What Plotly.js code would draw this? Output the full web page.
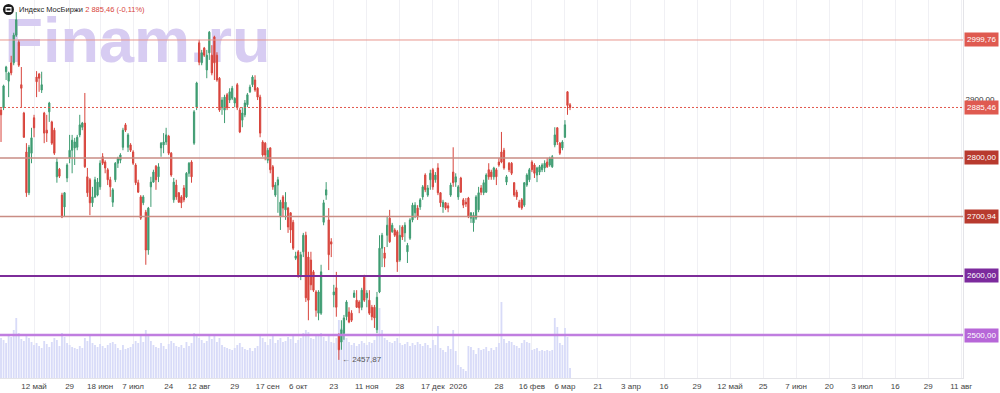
<!DOCTYPE html>
<html><head><meta charset="utf-8">
<script src="https://cdn.plot.ly/plotly-3.0.1.min.js"></script>
<style>html,body{margin:0;padding:0;background:#fff;overflow:hidden}#chart{width:1000px;height:393px}</style>
</head><body><div id="chart"></div>
<script>
// Daily candles, IMOEX (index order = trading day number)
const openP=[2881,2885,2946,2930,2961,2961,3008,2996,2924,2876,
2810,2741,2808,2868,2937,2942,2915,2876,2847,2878,
2861,2847,2768,2781,2737,2717,2766,2800,2813,2817,
2818,2839,2852,2859,2768,2763,2724,2734,2737,2751,
2802,2793,2780,2763,2725,2763,2791,2796,2818,2856,
2818,2822,2810,2788,2758,2734,2724,2708,2644,2751,
2759,2786,2768,2817,2822,2827,2837,2808,2729,2754,
2741,2734,2749,2734,2774,2793,2825,2886,2995,2961,
2986,2949,2978,2974,3005,2974,2935,2885,2881,2907,
2898,2901,2893,2924,2881,2864,2873,2890,2912,2924,
2932,2918,2903,2827,2825,2796,2817,2785,2737,2754,
2700,2734,2712,2715,2707,2691,2630,2641,2602,2641,
2669,2632,2627,2607,2573,2537,2537,2691,2737,2695,
2658,2568,2580,2500,2488,2503,2531,2539,2537,2564,
2559,2556,2547,2598,2563,2559,2547,2547,2509,2573,
2647,2639,2669,2698,2675,2678,2675,2627,2683,2673,
2641,2664,2695,2707,2715,2717,2734,2771,2737,2763,
2780,2763,2783,2741,2717,2724,2719,2737,2776,2759,
2734,2766,2729,2725,2732,2698,2690,2698,2712,2749,
2741,2742,2780,2776,2768,2780,2793,2810,2813,2759,
2791,2791,2758,2742,2725,2729,2720,2754,2763,2793,
2788,2771,2776,2780,2783,2793,2788,2785,2822,2851,
2825,2817,2835,2912,2890];
const highP=[2886,2924,2956,2946,2973,3012,3047,3000,2954,2878,
2825,2822,2851,2873,2947,2944,2946,2878,2873,2895,
2863,2851,2800,2783,2741,2742,2791,2839,2839,2834,
2839,2873,2861,2910,2783,2766,2751,2768,2766,2796,
2808,2796,2783,2768,2749,2793,2802,2808,2851,2859,
2842,2825,2813,2791,2763,2737,2737,2712,2717,2768,
2780,2788,2791,2827,2842,2851,2839,2810,2766,2763,
2742,2737,2754,2776,2793,2796,2881,2929,3000,2983,
2988,2983,3015,2991,3007,2979,2937,2903,2907,2910,
2918,2922,2903,2927,2885,2886,2898,2910,2924,2940,
2940,2920,2907,2830,2827,2817,2818,2788,2759,2768,
2729,2737,2742,2717,2708,2695,2641,2644,2641,2673,
2675,2641,2641,2610,2576,2576,2619,2729,2759,2715,
2664,2585,2607,2503,2525,2534,2559,2547,2542,2576,
2576,2559,2580,2602,2576,2576,2551,2551,2573,2669,
2673,2649,2700,2712,2690,2681,2678,2686,2686,2691,
2656,2698,2724,2725,2720,2732,2754,2774,2754,2780,
2783,2776,2791,2742,2729,2725,2724,2758,2818,2774,
2754,2768,2732,2732,2734,2708,2708,2737,2751,2754,
2763,2774,2791,2780,2785,2783,2800,2844,2817,2771,
2793,2793,2759,2746,2729,2732,2759,2774,2783,2796,
2791,2785,2788,2791,2796,2800,2802,2805,2852,2852,
2827,2830,2864,2913,2893];
const lowP=[2827,2881,2932,2903,2940,2957,3005,2954,2886,2834,
2734,2737,2791,2835,2903,2912,2910,2825,2827,2861,
2822,2805,2758,2766,2698,2700,2759,2791,2774,2788,
2813,2835,2847,2783,2734,2703,2717,2732,2735,2746,
2788,2774,2754,2734,2717,2759,2783,2791,2813,2844,
2810,2810,2788,2754,2741,2695,2720,2619,2636,2717,
2758,2746,2759,2802,2808,2822,2805,2768,2724,2729,
2724,2715,2725,2732,2768,2758,2822,2881,2957,2957,
2971,2935,2966,2940,2932,2929,2878,2873,2859,2881,
2893,2898,2886,2881,2842,2852,2869,2886,2910,2920,
2912,2898,2835,2802,2796,2791,2774,2746,2734,2707,
2678,2700,2695,2673,2656,2644,2627,2597,2593,2632,
2556,2525,2576,2573,2531,2525,2534,2686,2729,2610,
2632,2547,2531,2457.87,2475,2492,2525,2520,2522,2563,
2546,2537,2542,2556,2547,2534,2525,2512,2503,2571,
2615,2615,2649,2656,2673,2666,2607,2624,2661,2658,
2622,2661,2691,2698,2695,2712,2729,2742,2734,2746,
2746,2758,2737,2717,2707,2712,2708,2734,2751,2751,
2729,2741,2715,2717,2698,2690,2675,2695,2708,2737,
2737,2741,2763,2763,2763,2754,2785,2791,2780,2754,
2776,2771,2734,2729,2715,2712,2717,2751,2759,2776,
2766,2759,2771,2776,2776,2783,2785,2783,2818,2822,
2805,2813,2834,2873,2881];
const closeP=[2873,2922,2954,2944,2944,3008,3034,2957,2918,2835,
2741,2818,2834,2851,2929,2935,2924,2842,2842,2893,
2825,2808,2793,2769,2700,2741,2788,2813,2830,2827,
2835,2856,2859,2785,2741,2724,2734,2763,2759,2791,
2791,2783,2763,2751,2746,2791,2800,2805,2847,2847,
2839,2813,2791,2758,2742,2698,2734,2644,2715,2759,
2776,2763,2785,2825,2827,2839,2808,2771,2759,2734,
2725,2724,2729,2774,2791,2768,2878,2927,2962,2978,
2974,2974,3013,2944,2961,2932,2881,2898,2903,2885,
2912,2918,2901,2885,2844,2876,2893,2907,2920,2937,
2915,2903,2842,2805,2805,2813,2780,2751,2754,2763,
2725,2715,2725,2683,2678,2647,2634,2602,2636,2669,
2563,2559,2585,2576,2542,2573,2607,2724,2746,2636,
2654,2573,2547,2475,2509,2529,2556,2522,2525,2571,
2547,2546,2576,2559,2571,2537,2531,2529,2564,2647,
2669,2630,2686,2658,2686,2669,2624,2669,2666,2686,
2652,2695,2720,2720,2700,2729,2751,2746,2749,2774,
2751,2771,2741,2724,2725,2715,2715,2754,2758,2768,
2751,2742,2720,2722,2700,2707,2703,2734,2741,2742,
2758,2771,2768,2768,2783,2768,2788,2793,2783,2768,
2780,2774,2737,2734,2717,2715,2758,2771,2780,2780,
2774,2783,2785,2788,2791,2785,2800,2802,2839,2827,
2808,2827,2856,2889,2885.46];
const volume=[80,76,70,88,82,96,120,90,78,74,
86,80,72,66,70,64,60,74,68,62,
72,80,76,64,90,82,70,66,62,60,
58,64,60,80,74,84,70,66,62,68,
64,60,66,70,72,68,60,56,66,58,
60,62,68,74,70,86,72,96,88,74,
66,62,60,70,64,58,68,74,70,64,
62,66,60,72,64,70,90,84,80,76,
70,74,86,78,84,72,80,66,62,60,
58,56,60,66,70,62,58,56,60,54,
60,64,84,80,72,66,78,84,70,76,
80,72,74,82,78,84,70,76,80,90,
96,92,80,78,86,84,90,82,74,86,
72,70,80,116,100,90,80,72,66,70,
64,68,74,70,66,72,70,76,84,140,
96,80,76,72,70,74,80,70,66,68,
72,64,70,66,72,68,64,70,66,60,
76,66,104,60,56,52,64,58,96,54,
26,22,18,14,64,62,56,48,60,56,
58,62,54,60,56,62,70,152,78,70,
74,72,66,64,60,70,76,72,70,56,
58,60,54,56,54,56,54,56,120,102,
70,66,100,82,20];

const tickPos=[13,27,39,52,66,78,92,105,117,131,144,157,170,180,196,209,222,235,248,261,274,287,300,313,326,339,352,365,378];
const tickText=['12 май','29','18 июн','7 июл','24','12 авг','29','17 сен','6 окт','23','11 ноя','28','17 дек','2026','28','16 фев','6 мар','21','3 апр','16','29','12 май','25','7 июн','20','3 июл','16','29','11 авг'];

const levelValues=[2999.76,2800.00,2700.94,2600.00,2500.00];
const levelText=['2999,76','2800,00','2700,94','2600,00','2500,00'];
const lastPrice=2885.46, lastText='2885,46';
const lowPrice=2457.87, lowText='← 2457,87';
const priceTicks=[2900], priceTickText=['2900,00'];
const titleName='Индекс МосБиржи', titleQuote='2 885,46 (-0,11%)';

// styles
const lineColors=['#e8978e','#c98d84','#c98d84','#7d2c99','#c07ee0'];
const lineWidths=[1,1.5,1.5,2,2.5];
const boxColors=['#df5a50','#b83a2e','#b83a2e','#7c2a9d','#b767d8'];
const FONT='"Liberation Sans", Arial, sans-serif';

const xIdx=openP.map((_,i)=>i);
const PW=963, PH=378;
const px=p=>p/PW, py=p=>1-p/PH;

const traces=[
 {type:'bar',x:xIdx,y:volume,yaxis:'y',marker:{color:'#d8dbf8',line:{width:0}},width:0.72,hoverinfo:'skip'},
 {type:'scatter',mode:'text',x:[1.4],y:[664],yaxis:'y',text:['Finam.ru'],textposition:'middle right',
  textfont:{family:FONT,size:63,color:'#d7ccf2',weight:700},hoverinfo:'skip'},
 {type:'candlestick',x:xIdx,open:openP,high:highP,low:lowP,close:closeP,yaxis:'y2',
  increasing:{line:{color:'#3f9c72',width:1},fillcolor:'#3f9c72'},
  decreasing:{line:{color:'#d8453d',width:1},fillcolor:'#d8453d'},
  whiskerwidth:0,hoverinfo:'skip'}
];

const shapes=[];
levelValues.forEach((v,i)=>{
  shapes.push({type:'line',xref:'paper',x0:0,x1:1,yref:'y2',y0:v,y1:v,line:{color:lineColors[i],width:lineWidths[i]}});
});
shapes.push({type:'line',xref:'paper',x0:0,x1:1,yref:'y2',y0:lastPrice,y1:lastPrice,line:{color:'#e2574c',width:1,dash:'2px,2px'}});
// title icon
shapes.push({type:'circle',xref:'paper',yref:'paper',x0:px(3),x1:px(14),y0:py(15),y1:py(4),fillcolor:'#1b1b1b',line:{width:0}});
shapes.push({type:'rect',xref:'paper',yref:'paper',x0:px(5.5),x1:px(11.5),y0:py(12),y1:py(7),fillcolor:'#ffffff',line:{width:0}});
shapes.push({type:'rect',xref:'paper',yref:'paper',x0:px(6.5),x1:px(10.5),y0:py(10.5),y1:py(8.5),fillcolor:'#1b1b1b',line:{width:0}});

const annotations=[];
levelValues.forEach((v,i)=>{
  annotations.push({xref:'paper',x:1,xanchor:'left',xshift:1,yref:'y2',y:v,yanchor:'middle',text:levelText[i],
   showarrow:false,bgcolor:boxColors[i],borderpad:2,font:{family:FONT,size:8,color:'#ffffff'}});
});
annotations.push({xref:'paper',x:1,xanchor:'left',xshift:1,yref:'y2',y:lastPrice,yanchor:'middle',text:lastText,
  showarrow:false,bgcolor:'#df5a50',borderpad:2,font:{family:FONT,size:8,color:'#ffffff'}});
annotations.push({xref:'x',x:133,xanchor:'left',xshift:1,yref:'y2',y:lowPrice,yanchor:'middle',text:lowText,
  showarrow:false,font:{family:FONT,size:8,color:'#555555'}});
annotations.push({xref:'paper',yref:'paper',x:px(16.5),y:py(9.5),xanchor:'left',yanchor:'middle',showarrow:false,
  text:'<span style="color:#1f1f1f">'+titleName+'</span> <span style="color:#d8453d">'+titleQuote+'</span>',
  font:{family:FONT,size:7.5}});

const layout={
  width:1000,height:393,margin:{l:0,r:37,t:0,b:15,pad:0},
  paper_bgcolor:'#ffffff',plot_bgcolor:'#ffffff',showlegend:false,
  font:{family:FONT},
  xaxis:{range:[-0.4,378.7],tickvals:tickPos,ticktext:tickText,tickfont:{size:8,color:'#444'},
    showgrid:true,gridcolor:'#f0f0f4',gridwidth:1,showline:true,linecolor:'#e4e4e8',ticks:'',zeroline:false,
    rangeslider:{visible:false},fixedrange:true,ticklen:0,tickangle:0},
  yaxis:{range:[0,756],visible:false,showgrid:false,zeroline:false,fixedrange:true},
  yaxis2:{overlaying:'y',side:'right',range:[2427.2,3067.5],tickvals:priceTicks,ticktext:priceTickText,
    tickfont:{size:8,color:'#333'},showgrid:false,showline:true,linecolor:'#e4e4e8',ticks:'',zeroline:false,fixedrange:true},
  shapes:shapes,annotations:annotations,bargap:0.2
};
Plotly.newPlot('chart',traces,layout,{displayModeBar:false,staticPlot:true});
</script></body></html>
